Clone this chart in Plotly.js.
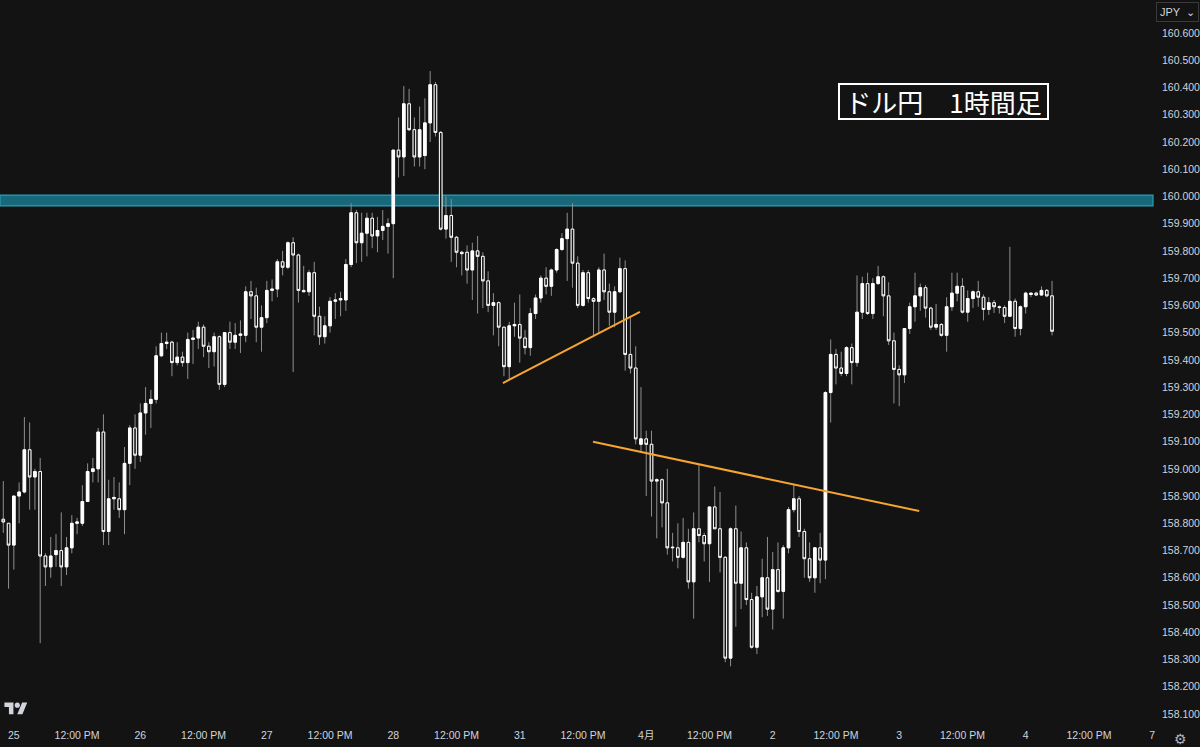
<!DOCTYPE html>
<html>
<head>
<meta charset="utf-8">
<script src="https://cdn.plot.ly/plotly-3.0.1.min.js"></script>
<style>
  html, body { margin: 0; padding: 0; background: #131313; }
  #chart { width: 1200px; height: 747px; }
</style>
</head>
<body>
<div id="chart"></div>
<script>
// USD/JPY 1-hour candles (bar index 0..199)
const openPx = [
  158.815,158.80,158.72,158.90,158.915,159.07,158.97,158.99,158.68,158.64,
  158.685,158.70,158.64,158.71,158.80,158.80,158.88,158.99,159.00,159.135,
  158.77,158.89,158.89,158.85,159.02,159.15,159.05,159.205,159.24,159.255,
  159.415,159.46,159.465,159.39,159.41,159.39,159.475,159.48,159.52,159.45,
  159.43,159.485,159.31,159.50,159.465,159.49,159.49,159.65,159.635,159.52,
  159.555,159.655,159.66,159.76,159.74,159.83,159.785,159.655,159.65,159.72,
  159.56,159.485,159.525,159.615,159.62,159.62,159.75,159.94,159.83,159.865,
  159.92,159.855,159.875,159.89,159.90,160.17,160.145,160.34,160.245,160.145,
  160.15,160.27,160.41,160.235,159.88,159.93,159.85,159.795,159.795,159.73,
  159.80,159.78,159.69,159.60,159.61,159.52,159.375,159.525,159.53,159.48,
  159.445,159.57,159.627,159.70,159.67,159.73,159.805,159.845,159.88,159.755,
  159.60,159.72,159.625,159.615,159.73,159.65,159.575,159.65,159.735,159.42,
  159.37,159.09,159.11,159.09,158.955,158.96,158.875,158.71,158.71,158.675,
  158.73,158.585,158.78,158.755,158.725,158.86,158.78,158.675,158.305,158.78,
  158.58,158.71,158.52,158.345,158.53,158.60,158.485,158.63,158.55,158.71,
  158.85,158.89,158.77,158.67,158.60,158.71,158.665,159.28,159.42,159.37,
  159.35,159.445,159.39,159.575,159.68,159.57,159.68,159.705,159.635,159.47,
  159.365,159.345,159.515,159.595,159.635,159.665,159.59,159.52,159.53,159.49,
  159.595,159.645,159.67,159.575,159.625,159.65,159.63,159.585,159.61,159.595,
  159.592,159.56,159.615,159.515,159.595,159.64,159.645,159.638,159.655,159.635
];
const highPx = [
  158.955,158.80,158.90,158.95,159.19,159.17,159.00,159.04,158.69,158.75,
  158.76,158.84,158.75,158.83,158.82,158.94,159.02,159.04,159.15,159.20,
  158.96,158.97,158.95,159.08,159.16,159.20,159.24,159.30,159.29,159.45,
  159.50,159.50,159.47,159.465,159.43,159.50,159.51,159.54,159.53,159.465,
  159.50,159.49,159.50,159.54,159.535,159.545,159.67,159.69,159.665,159.60,
  159.69,159.695,159.77,159.80,159.835,159.85,159.79,159.745,159.73,159.76,
  159.595,159.56,159.63,159.645,159.65,159.77,159.975,159.95,159.94,159.94,
  159.94,159.925,159.95,159.92,160.17,160.29,160.405,160.395,160.29,160.33,
  160.36,160.46,160.42,160.24,160.00,159.99,159.855,159.80,159.82,159.83,
  159.855,159.795,159.725,159.645,159.615,159.52,159.54,159.61,159.64,159.51,
  159.59,159.64,159.71,159.74,159.735,159.81,159.865,159.94,159.975,159.78,
  159.73,159.73,159.63,159.74,159.79,159.68,159.67,159.775,159.765,159.56,
  159.45,159.30,159.14,159.14,158.965,158.965,159.00,158.765,158.80,158.82,
  158.78,158.84,159.015,158.765,158.86,158.935,158.915,158.68,158.785,158.865,
  158.77,158.73,158.545,158.57,158.67,158.75,158.695,158.73,158.72,158.86,
  158.945,158.90,158.78,158.73,158.71,158.765,159.285,159.475,159.44,159.43,
  159.45,159.46,159.71,159.705,159.72,159.70,159.745,159.71,159.685,159.50,
  159.38,159.515,159.61,159.72,159.68,159.675,159.595,159.605,159.535,159.63,
  159.72,159.72,159.70,159.655,159.655,159.69,159.64,159.63,159.62,159.60,
  159.60,159.815,159.625,159.60,159.65,159.647,159.65,159.67,159.66,159.69
];
const lowPx = [
  158.765,158.56,158.63,158.80,158.91,158.85,158.85,158.36,158.57,158.60,
  158.64,158.57,158.61,158.69,158.76,158.79,158.88,158.95,158.95,158.72,
  158.72,158.85,158.82,158.76,158.94,159.00,159.025,159.125,159.15,159.24,
  159.41,159.44,159.34,159.38,159.375,159.33,159.385,159.44,159.41,159.37,
  159.375,159.29,159.30,159.44,159.44,159.425,159.465,159.55,159.465,159.43,
  159.535,159.615,159.63,159.71,159.733,159.355,159.61,159.65,159.635,159.49,
  159.455,159.46,159.50,159.55,159.56,159.58,159.74,159.755,159.76,159.78,
  159.81,159.795,159.84,159.79,159.70,160.07,160.075,160.24,160.11,160.11,
  160.10,160.20,160.22,159.875,159.845,159.76,159.74,159.71,159.68,159.62,
  159.57,159.59,159.575,159.49,159.45,159.34,159.325,159.485,159.39,159.42,
  159.415,159.55,159.61,159.64,159.635,159.72,159.80,159.69,159.665,159.59,
  159.595,159.61,159.49,159.50,159.62,159.525,159.52,159.645,159.36,159.35,
  159.09,159.06,158.90,158.825,158.745,158.785,158.685,158.66,158.635,158.67,
  158.56,158.45,158.73,158.66,158.585,158.78,158.62,158.29,158.275,158.42,
  158.485,158.50,158.34,158.32,158.455,158.46,158.41,158.545,158.45,158.69,
  158.84,158.75,158.60,158.585,158.545,158.58,158.595,159.17,159.31,159.34,
  159.34,159.31,159.375,159.55,159.565,159.55,159.675,159.56,159.455,159.24,
  159.23,159.315,159.495,159.54,159.58,159.555,159.51,159.51,159.485,159.43,
  159.58,159.615,159.57,159.54,159.59,159.595,159.545,159.565,159.572,159.57,
  159.535,159.56,159.485,159.49,159.57,159.63,159.635,159.635,159.63,159.49
];
const closePx = [
  158.805,158.72,158.90,158.915,159.07,158.97,158.99,158.68,158.64,158.68,
  158.70,158.64,158.71,158.80,158.805,158.88,158.99,159.00,159.135,158.77,
  158.89,158.895,158.85,159.02,159.15,159.05,159.205,159.24,159.255,159.415,
  159.46,159.465,159.39,159.41,159.39,159.475,159.48,159.52,159.45,159.43,
  159.485,159.31,159.50,159.465,159.49,159.495,159.65,159.635,159.52,159.555,
  159.655,159.66,159.76,159.74,159.83,159.785,159.655,159.65,159.72,159.56,
  159.485,159.525,159.615,159.62,159.625,159.75,159.94,159.83,159.865,159.92,
  159.855,159.875,159.89,159.90,160.17,160.145,160.34,160.245,160.145,160.245,
  160.27,160.41,160.235,159.88,159.93,159.85,159.795,159.79,159.73,159.80,
  159.78,159.69,159.60,159.61,159.52,159.375,159.525,159.53,159.48,159.445,
  159.57,159.627,159.70,159.67,159.73,159.805,159.845,159.88,159.755,159.60,
  159.72,159.625,159.615,159.73,159.65,159.575,159.65,159.735,159.42,159.37,
  159.11,159.11,159.09,158.955,158.96,158.875,158.71,158.712,158.675,158.73,
  158.585,158.78,158.755,158.725,158.86,158.78,158.675,158.305,158.78,158.58,
  158.71,158.52,158.345,158.53,158.60,158.485,158.63,158.55,158.71,158.85,
  158.89,158.77,158.67,158.60,158.71,158.665,159.28,159.42,159.37,159.35,
  159.445,159.39,159.575,159.68,159.57,159.68,159.705,159.635,159.47,159.365,
  159.345,159.515,159.595,159.635,159.665,159.59,159.52,159.53,159.49,159.595,
  159.645,159.67,159.575,159.625,159.65,159.63,159.585,159.61,159.595,159.592,
  159.56,159.615,159.515,159.595,159.645,159.645,159.638,159.655,159.635,159.505
];

// x-axis tick labels (bar index where each label sits)
const tickIdx  = [2,14,26,38,50,62,74,86,98,110,122,134,146,158,170,182,194,206,218];
const tickText = ['25','12:00 PM','26','12:00 PM','27','12:00 PM','28','12:00 PM','31','12:00 PM',
                  '4月','12:00 PM','2','12:00 PM','3','12:00 PM','4','12:00 PM','7'];

// resistance zone and drawn trend lines [x0, y0, x1, y1]
const zone = [159.965, 160.005];
const trendLines = [
  [94.8, 159.315, 120.8, 159.576],
  [111.9, 159.099, 173.8, 158.845]
];
const titleText = 'ドル円　1時間足';

const BG = '#131313';
const barIdx = openPx.map((_, i) => i);
const bodyHi = openPx.map((o, i) => Math.max(o, closePx[i]));
const bodyLo = openPx.map((o, i) => Math.min(o, closePx[i]));

const wickTrace = {
  type: 'candlestick', x: barIdx,
  open: openPx, high: highPx, low: lowPx, close: closePx,
  increasing: {line: {color: '#8f8f8f', width: 1}, fillcolor: '#8f8f8f'},
  decreasing: {line: {color: '#8f8f8f', width: 1}, fillcolor: '#8f8f8f'},
  whiskerwidth: 0, hoverinfo: 'skip', showlegend: false
};
const bodyTrace = {
  type: 'candlestick', x: barIdx,
  open: openPx, high: bodyHi, low: bodyLo, close: closePx,
  increasing: {line: {color: '#ffffff', width: 1}, fillcolor: '#ffffff'},
  decreasing: {line: {color: '#ffffff', width: 1}, fillcolor: BG},
  whiskerwidth: 0, hoverinfo: 'skip', showlegend: false
};

const shapes = [{
  type: 'rect', xref: 'paper', x0: 0, x1: 1, yref: 'y', y0: zone[0], y1: zone[1],
  fillcolor: '#16687a', line: {color: '#2a9fb3', width: 1.2}, layer: 'below'
}];
trendLines.forEach(t => shapes.push({
  type: 'line', xref: 'x', yref: 'y', x0: t[0], y0: t[1], x1: t[2], y1: t[3],
  line: {color: '#f7a531', width: 2}
}));

const tvLogo = 'data:image/svg+xml;utf8,' + encodeURIComponent(
  '<svg xmlns="http://www.w3.org/2000/svg" viewBox="0 0 36 28"><path fill="#d1d4dc" d="M14 22H7V11H0V4h14v18zM28 22h-8l7.5-18h8L28 22z"/><circle fill="#d1d4dc" cx="20" cy="8" r="4"/></svg>');

const layout = {
  width: 1200, height: 747,
  margin: {l: 0, r: 47, t: 0, b: 20, pad: 0},
  paper_bgcolor: BG, plot_bgcolor: BG,
  showlegend: false,
  font: {family: 'Liberation Sans, Noto Sans CJK JP, sans-serif', color: '#d1d4dc', size: 11},
  xaxis: {
    range: [-0.626, 218.16], rangeslider: {visible: false},
    showgrid: false, zeroline: false, showline: false, ticks: '',
    tickmode: 'array', tickvals: tickIdx, ticktext: tickText,
    tickfont: {size: 10.5, color: '#d1d4dc'}, fixedrange: true
  },
  yaxis: {
    side: 'right', range: [158.0522, 160.7211],
    showgrid: false, zeroline: false, showline: false, ticks: '',
    tick0: 158.1, dtick: 0.1, tickformat: '.3f',
    tickfont: {size: 10.5, color: '#d1d4dc'}, ticklabelstandoff: 8, fixedrange: true
  },
  shapes: shapes,
  annotations: [
    {xref: 'paper', yref: 'paper', x: 943 / 1153, y: 1 - 101.5 / 727,
     xanchor: 'center', yanchor: 'middle', showarrow: false,
     text: titleText, font: {family: 'Noto Sans CJK JP', size: 26, color: '#ffffff'},
     bgcolor: BG, bordercolor: '#ffffff', borderwidth: 2, borderpad: 1,
     width: 205, height: 31},
    {xref: 'paper', yref: 'paper', x: 1177 / 1153, y: 1 - 12 / 727,
     xanchor: 'center', yanchor: 'middle', showarrow: false,
     text: 'JPY &nbsp;⌄', font: {size: 11, color: '#d1d4dc'},
     bgcolor: BG, bordercolor: '#3a3a3a', borderwidth: 1, borderpad: 3},
    {xref: 'paper', yref: 'paper', x: 1180 / 1153, y: -12 / 727,
     xanchor: 'center', yanchor: 'middle', showarrow: false,
     text: '⚙', font: {family: 'DejaVu Sans', size: 14, color: '#b2b5be'}}
  ],
  images: [{
    source: tvLogo, xref: 'paper', yref: 'paper',
    x: 4 / 1153, y: 1 - 700 / 727, sizex: 24 / 1153, sizey: 18 / 727,
    xanchor: 'left', yanchor: 'top', sizing: 'contain', layer: 'above'
  }],
  hovermode: false
};

Plotly.newPlot('chart', [wickTrace, bodyTrace], layout, {staticPlot: true, displayModeBar: false});
</script>
</body>
</html>
